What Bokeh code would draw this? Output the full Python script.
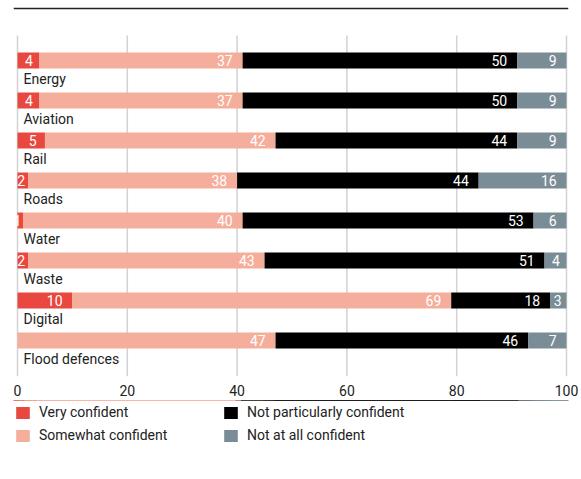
import numpy as np
from bokeh.plotting import figure
from bokeh.layouts import column
from bokeh.models import Range1d, FixedTicker, Span, Legend, LegendItem, ColumnDataSource
from bokeh.core.properties import value
from bokeh.embed import file_html
from bokeh.resources import INLINE

categories = ["Energy", "Aviation", "Rail", "Roads", "Water", "Waste", "Digital", "Flood defences"]
very_confident = [4, 4, 5, 2, 1, 2, 10, 0]
somewhat_confident = [37, 37, 42, 38, 40, 43, 69, 47]
not_particularly = [50, 50, 44, 44, 53, 51, 18, 46]
not_at_all = [9, 9, 9, 16, 6, 4, 3, 7]
series_names = ["Very confident", "Somewhat confident", "Not particularly confident", "Not at all confident"]
colors = ["#E8483F", "#F6AE9C", "#000000", "#7A8C96"]
x_ticks = [0, 20, 40, 60, 80, 100]

FONT = "Roboto"
series = [very_confident, somewhat_confident, not_particularly, not_at_all]

p = figure(width=581, height=400, output_backend="svg", toolbar_location=None,
           x_range=Range1d(-4 / 5.49, 100 + 2 / 5.49), y_range=Range1d(7.9, -1.35),
           y_axis_location=None, min_border_left=13, min_border_right=13,
           min_border_top=6, min_border_bottom=24)
p.outline_line_color = None
p.xgrid.visible = False
p.ygrid.visible = False

rows = np.arange(len(categories))

# grid lines
p.segment(x0=x_ticks, x1=x_ticks, y0=[-0.625] * len(x_ticks), y1=[7.9] * len(x_ticks),
          line_color="#d2d2d2", line_width=1.5)

# top rule
p.add_layout(Span(location=-1.3, dimension="width", line_color="#222222", line_width=1.5))

left = np.zeros(len(categories))
sources = []
lab_x, lab_y, lab_t = [], [], []
for vals, col in zip(series, colors):
    v = np.array(vals, dtype=float)
    right = left + v
    src = ColumnDataSource(dict(y=rows, left=left, right=right))
    sources.append(src)
    p.hbar(y="y", left="left", right="right", height=0.4, source=src,
           fill_color=col, line_color=None)
    for i, val in enumerate(vals):
        if val > 0:
            pad = min(1.8, val * 0.3)
            lab_x.append(right[i] - pad)
            lab_y.append(rows[i])
            lab_t.append(str(val))
    left = right

p.text(x=lab_x, y=lab_y, text=lab_t, text_color="white", text_align="right",
       text_baseline="middle", text_font=value(FONT), text_font_size="14px")

p.text(x=[1.1] * len(categories), y=rows + 0.45, text=categories, text_color="#222222",
       text_align="left", text_baseline="middle", text_font=value(FONT), text_font_size="14px")

ax = p.xaxis[0]
ax.ticker = FixedTicker(ticks=x_ticks)
ax.axis_line_color = None
ax.major_tick_line_color = None
ax.minor_tick_line_color = None
ax.major_label_text_font = FONT
ax.major_label_text_font_size = "14px"
ax.major_label_text_color = "#222222"
ax.major_label_standoff = 2

# legend strip: its bar renderers share the data but lie above its visible y range
q = figure(width=581, height=79, output_backend="svg", toolbar_location=None,
           x_range=Range1d(0, 100), y_range=Range1d(-2, -1),
           x_axis_location=None, y_axis_location=None,
           min_border_left=0, min_border_right=0, min_border_top=0, min_border_bottom=0)
q.outline_line_color = None
q.xgrid.visible = False
q.ygrid.visible = False
leg_renderers = [q.hbar(y="y", left="left", right="right", height=0.4, source=s,
                        fill_color=c, line_color=None)
                 for s, c in zip(sources, colors)]

legend = Legend(items=[LegendItem(label=n, renderers=[r]) for n, r in zip(series_names, leg_renderers)],
                ncols=2, location=(1, 34))
legend.padding = 0
legend.margin = 0
legend.spacing = 3
legend.border_line_color = None
legend.background_fill_alpha = 0
legend.glyph_width = 17
legend.glyph_height = 15
legend.label_standoff = 8
legend.label_height = 20
legend.label_width = 180
legend.label_text_font = FONT
legend.label_text_font_size = "14px"
legend.label_text_color = "#222222"
q.add_layout(legend)

layout = column(p, q, spacing=0)
open("out.html", "w").write(file_html(layout, INLINE))
